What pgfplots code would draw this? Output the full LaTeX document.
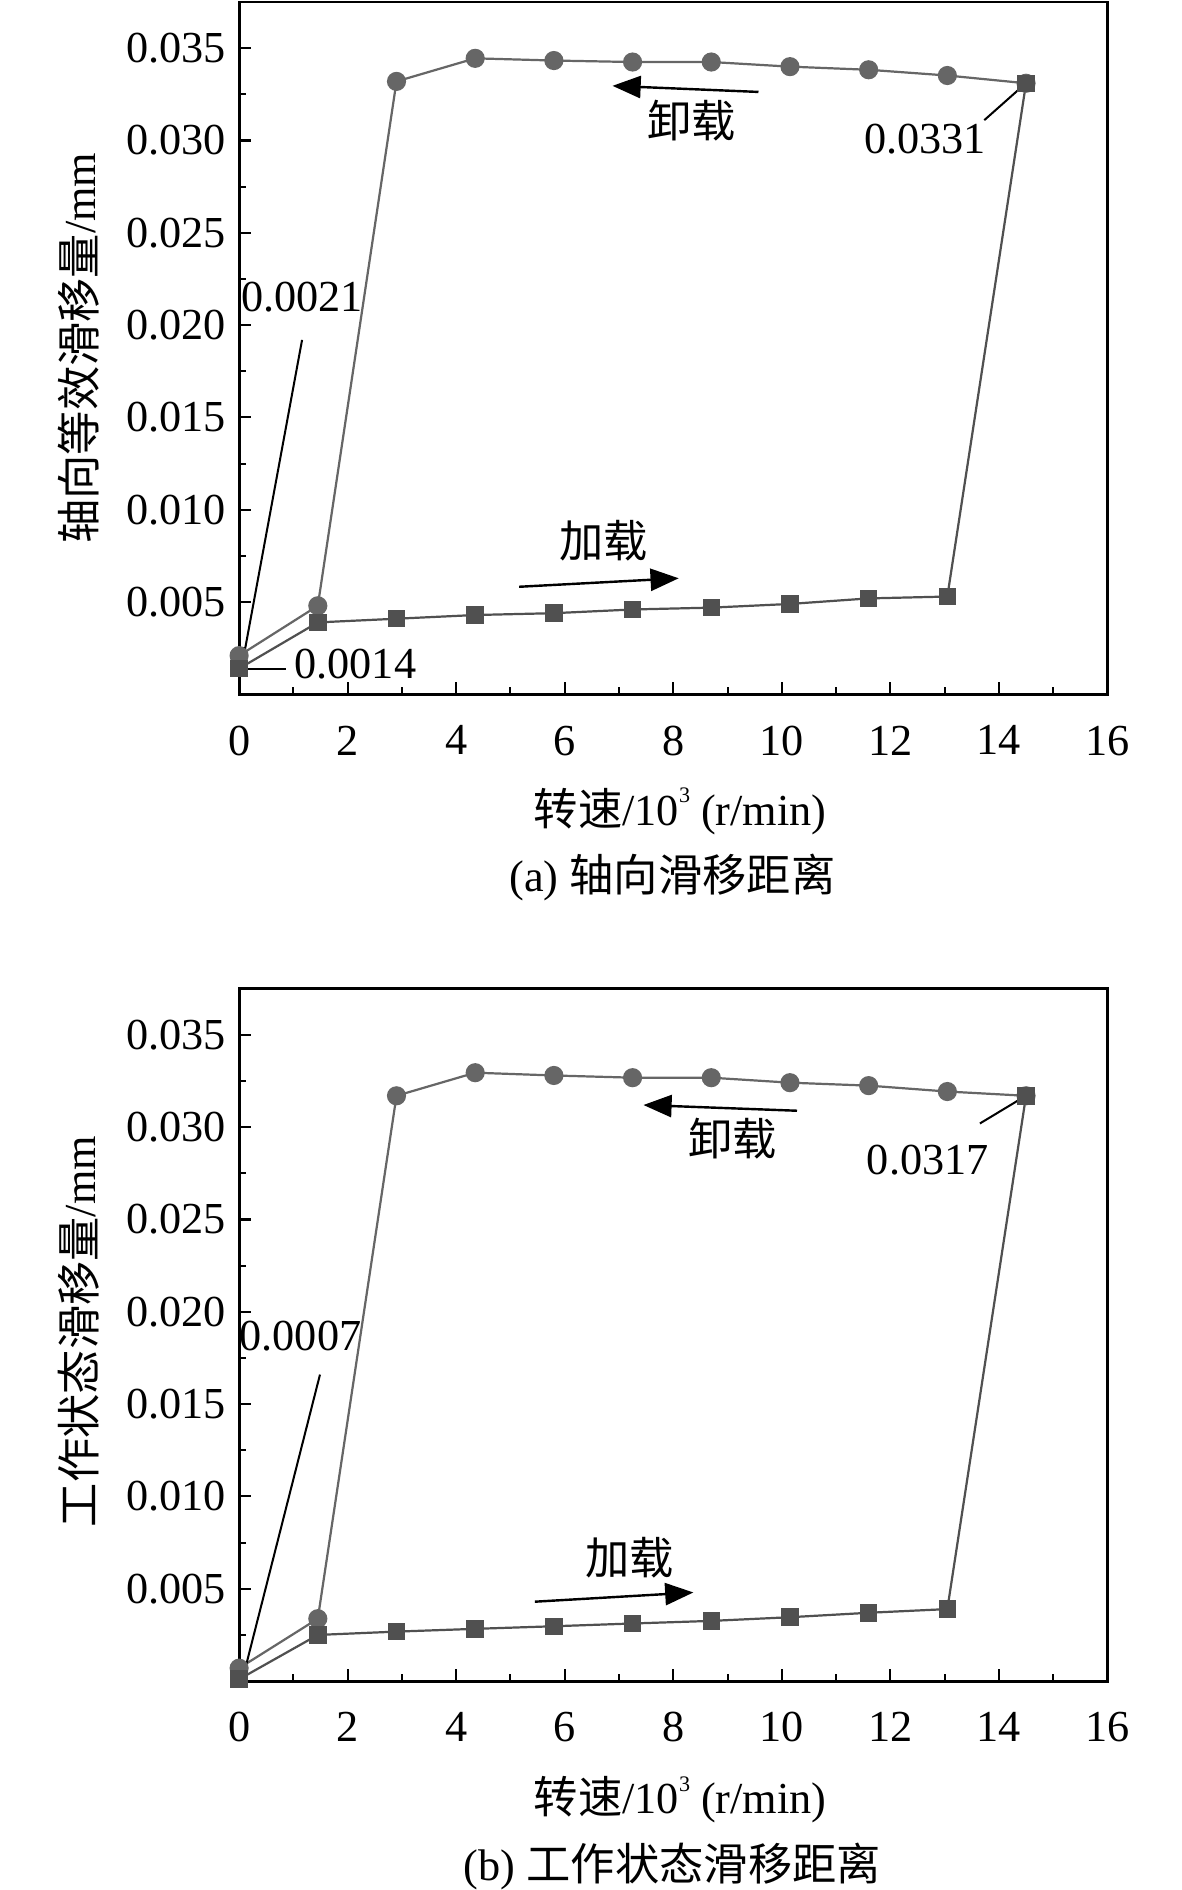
\documentclass[border=0pt]{standalone}
\usepackage{fontspec}
\setmainfont{Liberation Serif}
\newfontfamily\cjk{Noto Sans CJK SC}
\usepackage{pgfplots}
\pgfplotsset{compat=1.18}
\usetikzlibrary{arrows.meta}
\definecolor{circ}{HTML}{666666}
\definecolor{sq}{HTML}{505050}
\newcommand{\fs}{\fontsize{22}{26}\selectfont}
\newcommand{\sups}{\raisebox{1.1ex}{\fontsize{11}{11}\selectfont 3}}
\pgfplotsset{myax/.style={
  scale only axis, width=431.4pt, height=344pt,
  xmin=0, xmax=16, ymin=0, ymax=0.0375,
  xtick={0,2,...,16}, minor xtick={1,3,...,15},
  ytick={0.005,0.010,0.015,0.020,0.025,0.030,0.035},
  minor ytick={0.0025,0.0075,0.0125,0.0175,0.0225,0.0275,0.0325},
  tick align=inside, tick pos=left,
  major tick length=6pt, minor tick length=3.5pt,
  every tick/.style={black, line width=1pt},
  axis line style={line width=1.4pt},
  scaled y ticks=false,
  yticklabel style={xshift=-3pt, /pgf/number format/.cd, fixed, fixed zerofill, precision=3},
  /pgf/number format/assume math mode=true,
  tick label style={font=\fs},
  xticklabel style={yshift=-12pt},
  label style={font=\fs},
  xlabel={{\cjk 转速}/10\sups{} (r/min)},
  xlabel style={at={(axis description cs:0.508,-0.169)}, anchor=center},
  ylabel style={at={(axis description cs:-0.185,0.5)}, anchor=center},
  clip=false,
}}
\begin{document}
\begin{tikzpicture}[font=\fs, every node/.style={font=\fs}]
\useasboundingbox (0,0) rectangle (586.8pt,-939pt);
% ---------------- (a) ----------------
\begin{axis}[myax, at={(118.8pt,-345pt)}, anchor=south west,
  ylabel={{\cjk 轴向等效滑移量}/mm}]
\addplot[color=circ, line width=1.1pt, mark=*, mark size=4.2pt, mark options={fill=circ, draw=circ}]
coordinates {(0,0.0021) (1.45,0.0048) (2.9,0.0332) (4.35,0.03445) (5.8,0.03433) (7.25,0.03425) (8.7,0.03425) (10.15,0.0340) (11.6,0.03383) (13.05,0.03352) (14.5,0.0331)};
\addplot[color=sq, line width=1.1pt, mark=square*, mark size=3.8pt, mark options={fill=sq, draw=sq}]
coordinates {(0,0.0014) (1.45,0.0039) (2.9,0.0041) (4.35,0.0043) (5.8,0.0044) (7.25,0.0046) (8.7,0.0047) (10.15,0.0049) (11.6,0.0052) (13.05,0.0053) (14.5,0.0331)};
\node[font=\fs] at (axis cs:1.16,0.0215) {0.0021};
\draw[line width=1pt] (axis cs:1.16,0.0192) -- (axis cs:0.1,0.0023);
\node[font=\fs] at (axis cs:2.14,0.00164) {0.0014};
\draw[line width=1pt] (axis cs:0.16,0.00138) -- (axis cs:0.87,0.00138);
\node[font=\fs] at (axis cs:12.64,0.0301) {0.0331};
\draw[line width=1pt] (axis cs:13.73,0.0311) -- (axis cs:14.42,0.0329);
\node[font=\fs] at (axis cs:8.34,0.0311) {\cjk 卸载};
\draw[line width=1.2pt, -{Triangle[length=14pt,width=11pt]}] (axis cs:9.57,0.03263) -- (axis cs:6.88,0.03296);
\node[font=\fs] at (axis cs:6.72,0.0083) {\cjk 加载};
\draw[line width=1.2pt, -{Triangle[length=14pt,width=11pt]}] (axis cs:5.16,0.00583) -- (axis cs:8.1,0.00629);
\node[font=\fs] at (axis description cs:0.499,-0.265) {(a) {\cjk 轴向滑移距离}};
\end{axis}
% ---------------- (b) ----------------
\begin{axis}[myax, at={(118.8pt,-835.2pt)}, anchor=south west,
  ylabel={{\cjk 工作状态滑移量}/mm},
  ylabel style={at={(axis description cs:-0.185,0.505)}},
  xlabel style={at={(axis description cs:0.508,-0.171)}}]
\addplot[color=circ, line width=1.1pt, mark=*, mark size=4.2pt, mark options={fill=circ, draw=circ}]
coordinates {(0,0.0007) (1.45,0.00338) (2.9,0.0317) (4.35,0.03295) (5.8,0.0328) (7.25,0.03268) (8.7,0.03268) (10.15,0.03241) (11.6,0.03225) (13.05,0.03193) (14.5,0.0317)};
\addplot[color=sq, line width=1.1pt, mark=square*, mark size=3.8pt, mark options={fill=sq, draw=sq}]
coordinates {(0,0.0001) (1.45,0.0025) (2.9,0.00268) (4.35,0.00283) (5.8,0.00297) (7.25,0.00312) (8.7,0.00326) (10.15,0.00346) (11.6,0.0037) (13.05,0.0039) (14.5,0.0317)};
\node[font=\fs] at (axis cs:1.13,0.0187) {0.0007};
\draw[line width=1pt] (axis cs:1.49,0.0166) -- (axis cs:0.08,0.0003);
\node[font=\fs] at (axis cs:12.69,0.0282) {0.0317};
\draw[line width=1pt] (axis cs:13.65,0.0302) -- (axis cs:14.44,0.0316);
\node[font=\fs] at (axis cs:9.09,0.0294) {\cjk 卸载};
\draw[line width=1.2pt, -{Triangle[length=14pt,width=11pt]}] (axis cs:10.28,0.03089) -- (axis cs:7.45,0.0312);
\node[font=\fs] at (axis cs:7.2,0.00666) {\cjk 加载};
\draw[line width=1.2pt, -{Triangle[length=14pt,width=11pt]}] (axis cs:5.45,0.0043) -- (axis cs:8.37,0.0048);
\node[font=\fs] at (axis description cs:0.499,-0.267) {(b) {\cjk 工作状态滑移距离}};
\end{axis}
\end{tikzpicture}
\end{document}
